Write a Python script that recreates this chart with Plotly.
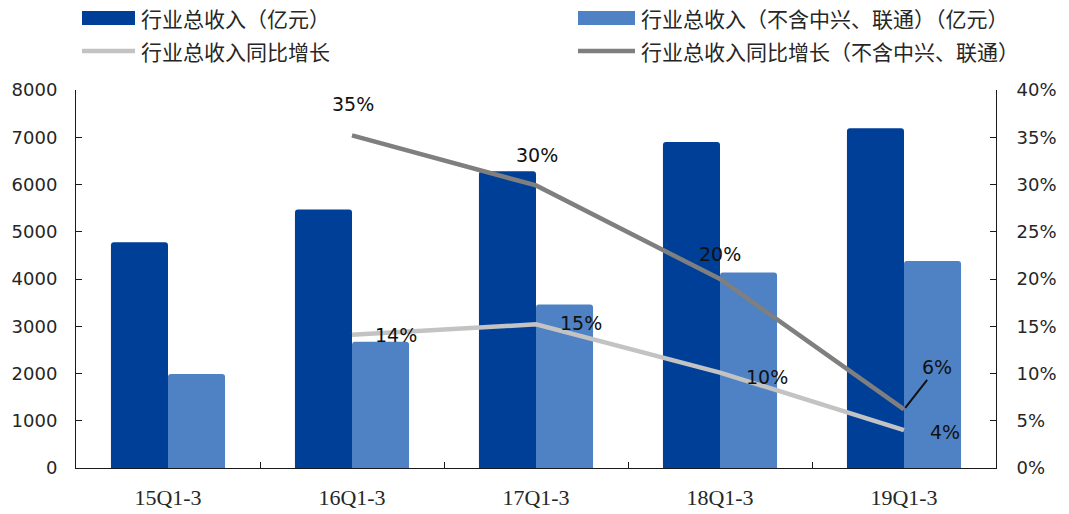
import plotly.graph_objects as go

# Quarterly cumulative data (Q1-Q3 of each year)
quarters = ["15Q1-3", "16Q1-3", "17Q1-3", "18Q1-3", "19Q1-3"]
revenue_total = [4780, 5470, 6280, 6900, 7190]          # 行业总收入（亿元）
revenue_excl = [1990, 2670, 3460, 4140, 4380]           # 不含中兴、联通
growth_total = [None, 14.1, 15.2, 10.1, 4.0]            # 行业总收入同比增长 (%)
growth_excl = [None, 35.2, 29.9, 20.0, 6.2]             # 同比增长（不含中兴、联通）(%)

DARK_BLUE = "#003F97"
LIGHT_BLUE = "#4F81C5"
LIGHT_GRAY = "#C3C3C3"
DARK_GRAY = "#7F7F7F"
AXIS = "#1a1a1a"
TEXT = "#262626"
NUM_FONT = "DejaVu Sans"
CJK_FONT = "Noto Sans CJK SC"

W, H = 1069, 514
ML, MR, MT, MB = 76, 73, 90, 46
PW, PH = W - ML - MR, H - MT - MB


def px(x):
    return (x - ML) / PW


def py(y):
    return (H - MB - y) / PH


fig = go.Figure()
fig.add_trace(go.Bar(x=quarters, y=revenue_total, name="行业总收入（亿元）",
                     marker=dict(color=DARK_BLUE, cornerradius=3, line_width=0)))
fig.add_trace(go.Bar(x=quarters, y=revenue_excl, name="行业总收入（不含中兴、联通）（亿元）",
                     marker=dict(color=LIGHT_BLUE, cornerradius=3, line_width=0)))
fig.add_trace(go.Scatter(x=quarters, y=growth_total, yaxis="y2", mode="lines",
                         name="行业总收入同比增长",
                         line=dict(color=LIGHT_GRAY, width=4.5)))
fig.add_trace(go.Scatter(x=quarters, y=growth_excl, yaxis="y2", mode="lines",
                         name="行业总收入同比增长（不含中兴、联通）",
                         line=dict(color=DARK_GRAY, width=4.5)))

LABEL_FONT = dict(family=NUM_FONT, size=19, color="#111")
annotations = []
# labels above the dark gray line
excl_offsets = {1: (1, 31), 2: (1, 30), 3: (0, 25)}
for i, (dx, dy) in excl_offsets.items():
    annotations.append(dict(x=quarters[i], y=growth_excl[i], xref="x", yref="y2",
                            text=f"{growth_excl[i]:.0f}%", showarrow=False,
                            xshift=dx, yshift=dy, font=LABEL_FONT))
# 6% label with leader line
annotations.append(dict(x=quarters[4], y=growth_excl[4], xref="x", yref="y2",
                        text=f"{growth_excl[4]:.0f}%", showarrow=True,
                        arrowhead=0, arrowwidth=2, arrowcolor="#111",
                        ax=33, ay=-42, standoff=2, startstandoff=0,
                        font=LABEL_FONT))
# labels to the right of the light gray line
total_offsets = {1: (44, 0), 2: (45, 1), 3: (47, -4), 4: (41, -2)}
for i, (dx, dy) in total_offsets.items():
    annotations.append(dict(x=quarters[i], y=growth_total[i], xref="x", yref="y2",
                            text=f"{growth_total[i]:.0f}%", showarrow=False,
                            xshift=dx, yshift=dy, font=LABEL_FONT))

# legend drawn as swatches + text at the top
shapes = []
legend_items = [
    ("rect", DARK_BLUE, 82, 135, 18, "行业总收入（亿元）"),
    ("rect", LIGHT_BLUE, 578, 635, 18, "行业总收入（不含中兴、联通）（亿元）"),
    ("line", LIGHT_GRAY, 82, 135, 51, "行业总收入同比增长"),
    ("line", DARK_GRAY, 578, 635, 51, "行业总收入同比增长（不含中兴、联通）"),
]
for kind, color, x0, x1, yc, label in legend_items:
    if kind == "rect":
        shapes.append(dict(type="rect", xref="paper", yref="paper",
                           x0=px(x0), x1=px(x1), y0=py(yc + 7), y1=py(yc - 7),
                           fillcolor=color, line_width=0))
    else:
        shapes.append(dict(type="line", xref="paper", yref="paper",
                           x0=px(x0), x1=px(x1), y0=py(yc), y1=py(yc),
                           line=dict(color=color, width=4.5)))
    annotations.append(dict(x=px(x1 + 4), y=py(yc), xref="paper", yref="paper",
                            xanchor="left", yanchor="middle", showarrow=False,
                            text=label,
                            font=dict(family=CJK_FONT, size=21, color=TEXT)))

fig.update_layout(
    width=W, height=H,
    margin=dict(l=ML, r=MR, t=MT, b=MB),
    paper_bgcolor="white", plot_bgcolor="white",
    barmode="group", bargap=0.38, bargroupgap=0,
    showlegend=False,
    shapes=shapes, annotations=annotations,
    xaxis=dict(type="category", showline=True, linecolor=AXIS, linewidth=1,
               ticks="inside", ticklen=6, tickcolor=AXIS, tickson="boundaries",
               showgrid=False, ticklabelstandoff=10, automargin=False,
               tickfont=dict(family="Liberation Serif", size=22, color=TEXT)),
    yaxis=dict(range=[0, 8000], dtick=1000, showline=True, linecolor=AXIS,
               linewidth=1, ticks="inside", ticklen=6, tickcolor=AXIS,
               showgrid=False, zeroline=False, ticklabelstandoff=14,
               automargin=False,
               tickfont=dict(family=NUM_FONT, size=18, color=TEXT)),
    yaxis2=dict(range=[0, 40], dtick=5, ticksuffix="%", overlaying="y",
                side="right", showline=True, linecolor=AXIS, linewidth=1,
                ticks="inside", ticklen=6, tickcolor=AXIS, showgrid=False,
                zeroline=False, ticklabelstandoff=16, automargin=False,
                tickfont=dict(family=NUM_FONT, size=18, color=TEXT)),
)

fig.write_html("out.html")
